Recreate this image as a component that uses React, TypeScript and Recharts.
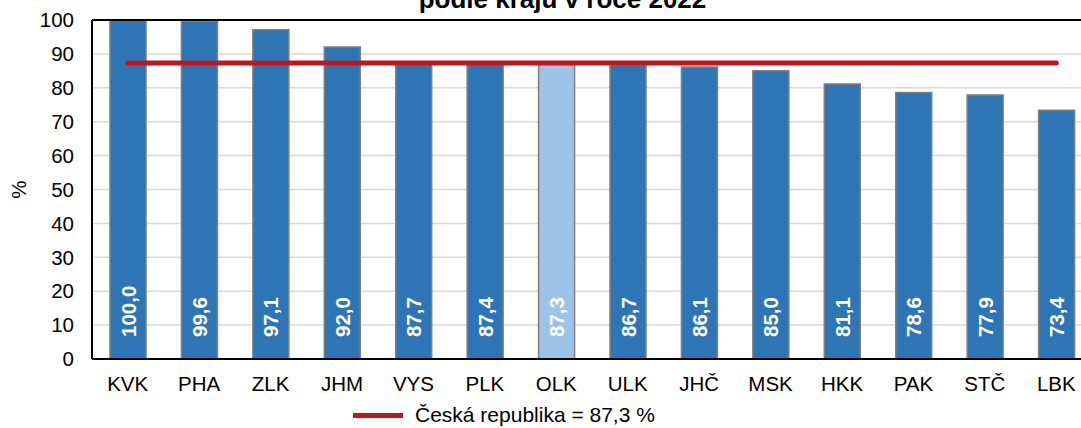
import { ComposedChart, Bar, Line, XAxis, YAxis, CartesianGrid, Cell, LabelList, ReferenceLine } from 'recharts';

// ─── Data ───
const regions = ['KVK', 'PHA', 'ZLK', 'JHM', 'VYS', 'PLK', 'OLK', 'ULK', 'JHČ', 'MSK', 'HKK', 'PAK', 'STČ', 'LBK'];
const shares = [100.0, 99.6, 97.1, 92.0, 87.7, 87.4, 87.3, 86.7, 86.1, 85.0, 81.1, 78.6, 77.9, 73.4];
const czechAverage = 87.3;
const highlightedRegion = 'OLK';
const yTicks = [0, 10, 20, 30, 40, 50, 60, 70, 80, 90, 100];

const titleText = 'podle krajů v roce 2022';
const legendText = 'Česká republika = 87,3 %';

// ─── Palette ───
const BAR = '#2E75B6';
const BAR_LIGHT = '#9DC3E6';
const BAR_EDGE = '#7F7F7F';
const RED = '#C0171F';
const FONT = '"Liberation Sans", Arial, sans-serif';

const data = regions.map((name, i) => ({ name, value: shares[i], cr: czechAverage }));

const fmt = (v: number) => v.toFixed(1).replace('.', ',');

// rotated white label sitting near the base of each bar
const BarLabel = (props: any) => {
  const { x, y, width, height, value } = props;
  const cx = Number(x) + Number(width) / 2;
  const base = Number(y) + Number(height) - 22;
  return (
    <text
      x={cx}
      y={base}
      transform={`rotate(-90 ${cx} ${base})`}
      textAnchor="start"
      dominantBaseline="central"
      fill="#fff"
      fontWeight="bold"
      fontSize={20.5}
      fontFamily={FONT}
    >
      {fmt(Number(value))}
    </text>
  );
};

export default function App() {
  return (
    <div style={{ position: 'fixed', left: 0, top: 0, width: 1081, height: 428, overflow: 'hidden', background: '#fff', fontFamily: FONT }}>
      <div style={{ position: 'absolute', left: 0, top: -14, width: 1125, textAlign: 'center', fontSize: 26, lineHeight: '26px', fontWeight: 'bold', color: '#000', whiteSpace: 'nowrap' }}>
        {titleText}
      </div>

      <ComposedChart width={1100} height={428} data={data} margin={{ top: 20, right: 8, bottom: 0, left: 0 }}>
        <CartesianGrid vertical={false} stroke="#D9D9D9" strokeWidth={1.5} />
        <XAxis
          dataKey="name"
          height={69}
          interval={0}
          tickLine={false}
          tickSize={0}
          tickMargin={17}
          axisLine={{ stroke: '#000', strokeWidth: 2 }}
          tick={{ fill: '#000', fontSize: 20.5, fontFamily: FONT }}
        />
        <YAxis
          width={92}
          domain={[0, 100]}
          ticks={yTicks}
          interval={0}
          tickLine={false}
          tickSize={0}
          tickMargin={18}
          axisLine={{ stroke: '#000', strokeWidth: 2 }}
          tick={{ fill: '#000', fontSize: 20.5, fontFamily: FONT }}
          label={{ value: '%', angle: -90, position: 'insideLeft', offset: 19, style: { fill: '#000', fontSize: 20.5, fontFamily: FONT, textAnchor: 'middle' } }}
        />
        <ReferenceLine y={100} stroke="#000" strokeWidth={2} />
        <Bar dataKey="value" barSize={36} stroke={BAR_EDGE} strokeWidth={1.5} isAnimationActive={false}>
          {data.map(d => (
            <Cell key={d.name} fill={d.name === highlightedRegion ? BAR_LIGHT : BAR} />
          ))}
          <LabelList dataKey="value" content={BarLabel} />
        </Bar>
        <Line
          dataKey="cr"
          stroke={RED}
          strokeWidth={5}
          strokeLinecap="round"
          dot={false}
          activeDot={false}
          isAnimationActive={false}
        />
      </ComposedChart>

      {/* legend */}
      <div style={{ position: 'absolute', left: 353, top: 403, display: 'flex', alignItems: 'center', whiteSpace: 'nowrap' }}>
        <span style={{ display: 'inline-block', width: 50, height: 5, background: RED, marginRight: 12 }} />
        <span style={{ fontSize: 21, color: '#000' }}>{legendText}</span>
      </div>
    </div>
  );
}
